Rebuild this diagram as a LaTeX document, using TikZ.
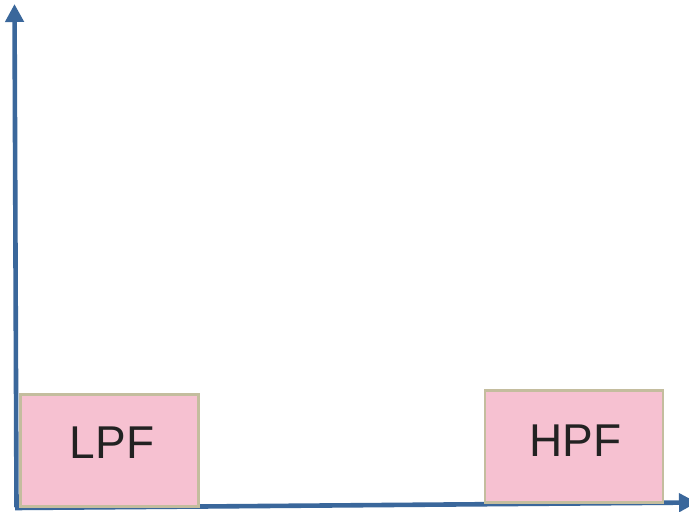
\documentclass[tikz,border=0pt]{standalone}
\usepackage{fontspec}
\setmainfont{Liberation Sans}
\usetikzlibrary{arrows.meta}
\definecolor{axisblue}{HTML}{3A679B}
\definecolor{boxpink}{HTML}{F6C1D1}
\definecolor{boxedge}{HTML}{C4BD9E}
\definecolor{labelink}{HTML}{222222}
\tikzset{
  axisline/.style={draw=axisblue, line width=4.6pt,
    -{Triangle[width=18pt,length=18pt]}},
  filterbox/.style={draw=boxedge, fill=boxpink, line width=2.2pt,
    minimum width=178pt, minimum height=112pt, inner sep=0pt},
  filterlabel/.style={anchor=base, inner sep=0pt, text=labelink,
    font=\fontsize{46}{46}\selectfont},
}
\begin{document}
\begin{tikzpicture}[x=1pt,y=-1pt]
  \useasboundingbox (0,0) rectangle (689,512);
  \clip (0,0) rectangle (689,512);
  % axes
  \coordinate (yorigin) at (16.5,507);
  \coordinate (ytop) at (14.5,4);
  \coordinate (xorigin) at (15,508);
  \coordinate (xend) at (697,502.5);
  \draw[axisline] (yorigin) -- (ytop);
  \draw[axisline] (xorigin) -- (xend);
  % filter blocks
  \node[filterbox] (lpf) at (109.5,450.5) {};
  \node[filterlabel] (lpftext) at (112,458) {LPF};
  \node[filterbox] (hpf) at (574,446.5) {};
  \node[filterlabel] (hpftext) at (575.5,456) {HPF};
\end{tikzpicture}
\end{document}
